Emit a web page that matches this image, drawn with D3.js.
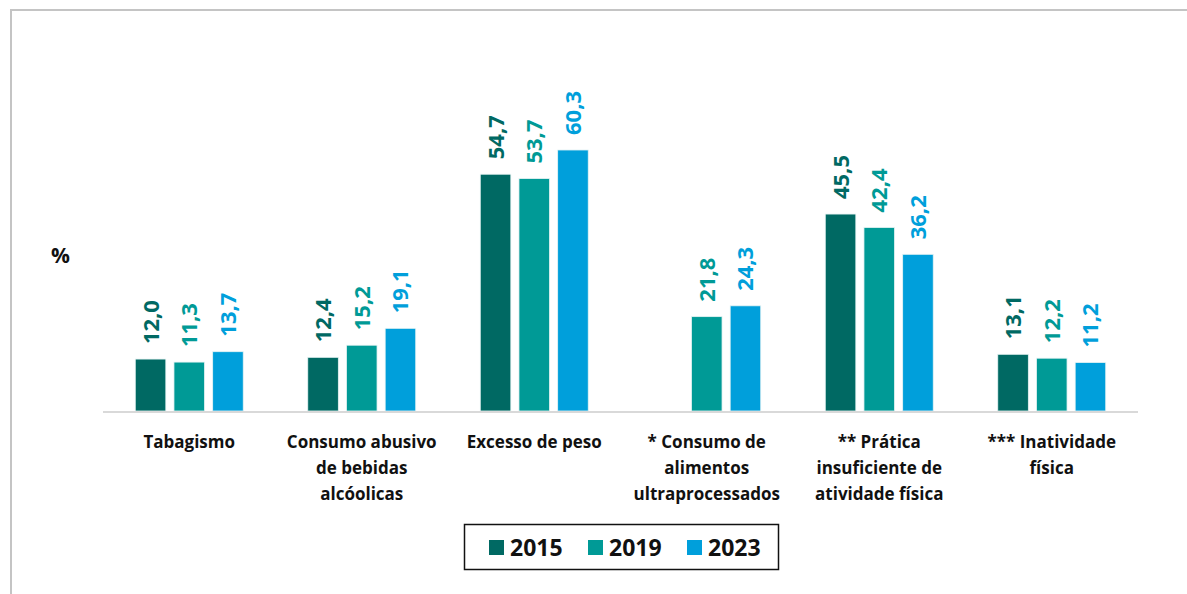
<!DOCTYPE html>
<html>
<head>
<meta charset="utf-8">
<script src="https://cdn.jsdelivr.net/npm/d3@7"></script>
<style>
  body { margin: 0; background: #fff; }
  svg { display: block; font-family: "Open Sans", sans-serif; }
</style>
</head>
<body>
<div id="chart"></div>
<script>
// data
let categories = [
  ["Tabagismo"],
  ["Consumo abusivo", "de bebidas", "alcóolicas"],
  ["Excesso de peso"],
  ["* Consumo de", "alimentos", "ultraprocessados"],
  ["** Prática", "insuficiente de", "atividade física"],
  ["*** Inatividade", "física"]
];
let years = ["2015", "2019", "2023"];
let values2015 = [12.0, 12.4, 54.7, null, 45.5, 13.1];
let values2019 = [11.3, 15.2, 53.7, 21.8, 42.4, 12.2];
let values2023 = [13.7, 19.1, 60.3, 24.3, 36.2, 11.2];
let colors = ["#006963", "#009a96", "#009fdb"];

let w = 1187, h = 594;
let baseY = 411;

let svg = d3.select("#chart")
  .append("svg")
  .attr("width", w)
  .attr("height", h);

// outer frame (only left and top visible)
svg.append("path")
  .attr("d", "M11," + h + "V10H" + w)
  .attr("fill", "none")
  .attr("stroke", "#c4c4c4")
  .attr("stroke-width", 2);

let catIdx = categories.map(function(d, i) { return i; });

let x0 = d3.scaleBand()
  .domain(catIdx)
  .range([103, 1138])
  .paddingInner(0.374)
  .paddingOuter(0.187);

let x1 = d3.scaleBand()
  .domain(years)
  .range([0, x0.bandwidth()])
  .paddingInner(0.21);

let y = d3.scaleLinear()
  .domain([0, 70])
  .range([baseY, 108]);

let series = [values2015, values2019, values2023];

series.forEach(function(vals, s) {
  let g = svg.append("g");
  let data = vals.map(function(v, i) { return { i: i, v: v }; })
    .filter(function(d) { return d.v !== null; });

  g.selectAll("rect")
    .data(data)
    .enter()
    .append("rect")
    .attr("x", function(d) { return x0(d.i) + x1(years[s]); })
    .attr("y", function(d) { return y(d.v); })
    .attr("width", x1.bandwidth())
    .attr("height", function(d) { return baseY - y(d.v); })
    .attr("fill", colors[s])
    .attr("stroke", "#e8f4f4")
    .attr("stroke-width", 0.8);

  g.selectAll("text")
    .data(data)
    .enter()
    .append("text")
    .attr("transform", function(d) {
      let cx = x0(d.i) + x1(years[s]) + x1.bandwidth() / 2 + 8;
      return "translate(" + cx + "," + (y(d.v) - 15) + ") rotate(-90)";
    })
    .attr("font-size", "22px")
    .attr("font-weight", "bold")
    .attr("fill", colors[s])
    .text(function(d) { return d.v.toFixed(1).replace(".", ","); });
});

// x axis line
svg.append("line")
  .attr("x1", x0.range()[0])
  .attr("x2", x0.range()[1])
  .attr("y1", baseY + 1)
  .attr("y2", baseY + 1)
  .attr("stroke", "#d9d9d9")
  .attr("stroke-width", 2);

// category labels
let catText = svg.append("g")
  .selectAll("text")
  .data(categories)
  .enter()
  .append("text")
  .attr("text-anchor", "middle")
  .attr("font-size", "17px")
  .attr("font-weight", "bold")
  .attr("fill", "#111");

catText.selectAll("tspan")
  .data(function(d, i) { return d.map(function(t) { return { t: t, i: i }; }); })
  .enter()
  .append("tspan")
  .attr("x", function(d) { return x0(d.i) + x0.bandwidth() / 2; })
  .attr("y", function(d, j) { return 448 + j * 26; })
  .text(function(d) { return d.t; });

// % label
svg.append("text")
  .attr("x", 51)
  .attr("y", 263)
  .attr("font-size", "21px")
  .attr("font-weight", "bold")
  .attr("fill", "#111")
  .text("%");

// legend
let legend = svg.append("g").attr("transform", "translate(464,524)");
legend.append("rect")
  .attr("x", 0.5)
  .attr("y", 0.5)
  .attr("width", 314)
  .attr("height", 45)
  .attr("fill", "#fff")
  .attr("stroke", "#111")
  .attr("stroke-width", 1.5);

let items = legend.selectAll("g.item")
  .data(years)
  .enter()
  .append("g")
  .attr("class", "item")
  .attr("transform", function(d, i) { return "translate(" + (25 + i * 99) + ",0)"; });

items.append("rect")
  .attr("x", 0)
  .attr("y", 16)
  .attr("width", 15)
  .attr("height", 15)
  .attr("fill", function(d, i) { return colors[i]; });

items.append("text")
  .attr("x", 21)
  .attr("y", 32)
  .attr("font-size", "23px")
  .attr("font-weight", "bold")
  .attr("fill", "#111")
  .text(function(d) { return d; });
</script>
</body>
</html>
